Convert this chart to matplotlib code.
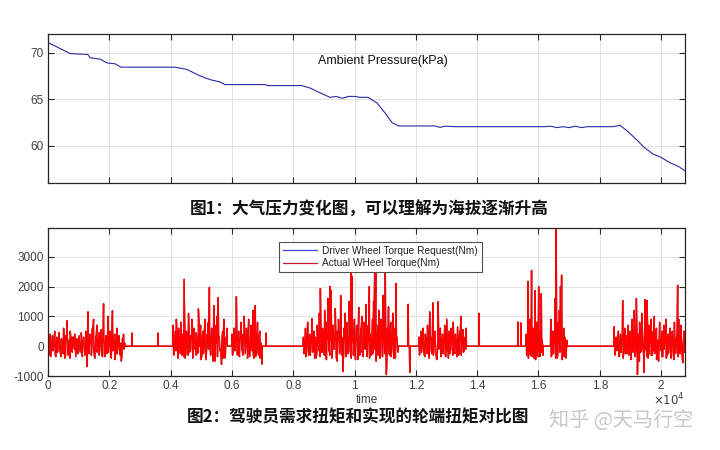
import numpy as np
import matplotlib
matplotlib.use("Agg")
import matplotlib.pyplot as plt
from matplotlib.lines import Line2D

plt.rcParams['font.family'] = ['Liberation Sans', 'DejaVu Sans']
plt.rcParams['axes.unicode_minus'] = False

# ---------------- data ----------------
# Figure 1: ambient pressure (kPa) vs time (s)
p_time = [0, 300, 720, 1300, 1370, 1700, 1920, 2190, 2380, 4140, 4530, 4960, 5290,
          5610, 5770, 7100, 7150, 8280, 8550, 8880, 9200, 9400, 9600, 9800, 10000,
          10180, 10440, 10730, 11000, 11220, 11430, 12600, 12790, 12950, 13300, 16200,
          16400, 16600, 16800, 17000, 17200, 17400, 17600, 18430, 18660, 18890, 19220,
          19420, 19740, 19970, 20300, 20560, 20780]
p_kpa = [71.08, 70.6, 69.9, 69.8, 69.45, 69.3, 68.9, 68.8, 68.44, 68.44, 68.2, 67.5, 67.1,
         66.85, 66.57, 66.57, 66.46, 66.46, 66.2, 65.67, 65.2, 65.3, 65.1, 65.3, 65.3,
         65.2, 65.2, 64.6, 63.5, 62.5, 62.13, 62.13, 61.98, 62.1, 62.05, 62.05,
         62.1, 61.95, 62.05, 61.95, 62.1, 61.95, 62.05, 62.05, 62.2, 61.6, 60.6,
         59.9, 59.1, 58.8, 58.16, 57.8, 57.3]

# Figure 2: wheel torque (Nm); driving bursts (start/end time in s)
burst_start = [0, 4080, 6000, 8330, 12100, 15600, 16400, 18470]
burst_end = [2500, 5840, 6980, 11420, 13640, 16150, 16930, 20780]
# main torque samples of each burst (peaks and swings)
burst1 = [1050, -300, 400, -150, 350, 50, 500, -350, 300, 100, 450, -200, 250, 0, 600, -400,
          350, 850, -300, 200, 500, -100, 300, 150, 400, -350, 250, 50, 350, -200, 450, 100,
          300, -300, 500, -680, 1150, -250, 400, 100, 600, 900, -400, 300, 700, -100, 450,
          200, 550, -350, 1420, 100, 350, -250, 1000, 200, 500, -400, 1190, 50, 400, -200,
          600, 150, 350, -300, -500, 250, 400, 100]
burst2 = [700, -200, 500, 900, -100, 600, 200, 800, -300, 400, 2240, -400, 500, 100, 1100,
          -200, 350, 900, -100, 600, 200, 450, -250, 1250, 0, 700, -350, 500, 150, 900, -450,
          400, 800, 1970, -300, 600, 200, 1360, -500, 700, 1000, 1630, 300, -100, -610, 500,
          900, -400, 300, 600]
burst3 = [400, -200, 600, 100, 1660, -300, 500, 200, 800, -100, 400, 1000, -250, 600, 50,
          900, -350, 700, 300, 1200, -400, 1360, 200, 800, -300, 500, 100, -600]
burst4 = [300, -200, 600, 100, 800, -300, 400, 200, 920, -150, 500, 300, -400, 700, 100,
          1100, 1930, -200, 600, 300, 1200, -350, 800, 1600, 100, 2000, 1870, -300, 700, 200,
          1260, -400, 500, 900, -250, 1700, 300, -850, 600, 1100, -300, 800, 200, 1500, -200,
          2610, 2340, 100, 900, -450, 700, 300, 1300, -300, 600, 1000, -200, 800, 200, 1400,
          -350, 700, 2000, 400, -300, 900, 1500, 2540, 2510, -200, 700, 1200, -400, 900, 300,
          1700, 100, 2470, -950, 600, 1320, -300, 800, 200, 1100, -400, 600, 2100, 300, -200]
burst5 = [300, -200, 500, 100, 600, -300, 400, 200, 700, -100, 1150, 300, -250, 1450, 200,
          500, -300, -400, 1490, 100, 600, -200, 400, 250, 700, -350, 900, 100, 500, -250,
          600, 300, 800, -200, 400, 150, 650, -300, 500, 1000, 100, 550, -150, 300, 600]
burst6 = [400, -200, 2170, 300, 900, -300, 2540, 200, 600, -400, 1860, 100, 800, -350, 2000,
          500, -200, 1760, 200, -300]
burst7 = [900, -300, 500, 200, 1600, 3970, -400, 800, 1200, 2000, 2380, -300, 600, 300, -400,
          200]
burst8 = [650, -200, 300, 100, 500, -300, 400, 200, 1530, -100, 600, 300, -250, 700, 100, 500,
          -400, 900, 200, 1200, -300, 1600, -950, 400, 800, -200, 1100, 300, -880, 1560, 200,
          1530, -400, 700, 100, 900, -300, 500, 1000, -200, 600, 200, -500, 800, 100, 500,
          -350, 700, 250, 900, -300, 400, 100, 600, -400, 500, 200, 800, -250, 300, 2040, 900,
          200, 700, -100, -550, 500, 300]
# in-between samples of the dense noise band of each burst
band1 = [-250, 150, -350, 100, -150, 250, -300, 50, -200, 300, -100, -350, 200, -250, 100,
         -300, 250, -150, 50, -400, 200, -200, 300, -100, -300, 150, -250, 350, -150, 100,
         -350, 200, -200, 50, -450, 300, -150, 150, -300, 250, -100, -400, 200, -200, 100,
         -300, 350, -150, -250, 150, -350, 250, -100, -200, 300, -300, 100, -150, 200, -450,
         50, -250, 300, -150, 100, -350, 200, -100]
band2 = [-300, 200, -150, 400, -400, 100, -250, 300, -100, -350, 200, -200, 450, -300, 100,
         -150, 300, -400, 250, -100, -300, 150, -200, 350, -450, 100, -250, 300, -150, -350,
         200, -100, 400, -300, 150, -500, 250, -200, 100, -350, 300, -150, -250, 200, -400,
         150, -300, 100]
band3 = [-300, 200, -150, 400, -250, 100, -350, 250, -100, -300, 150, -200, 300, -400, 100,
         -250, 350, -150, -300, 200, -350, 100, -200, 250, -400, 0]
band4 = [-250, 150, -350, 200, -100, 300, -300, 100, -200, 400, -400, 150, -250, 300, -150,
         -350, 200, -200, 350, -300, 100, -450, 250, -150, -300, 200, -400, 150, -100, 300,
         -250, -500, 200, -150, 400, -300, 100, -200, 250, -350, 150, -250, 350, -100, -400,
         200, -300, 100, -150, 300, -450, 150, -250, 400, -200, -350, 200, -100, 300, -300,
         150, -400, 250, -150, -250, 350, -100, -500, 200, -300, 100, -200, 400, -350, 150,
         -250, 300, -600, 100, -200, 350, -350, 150, -100, 250, -400, 200, -150]
band5 = [-300, 150, -200, 350, -100, -350, 200, -250, 100, -400, 250, -150, 300, -300, 100,
         -200, -450, 200, -100, 300, -350, 150, -250, 100, -300, 250, -150, -400, 200, -100,
         300, -300, 150, -250, 100, -350, 200, -150, 250, -300, 100, -200, 150, -100]
band6 = [-300, 200, -400, 100, -250, 300, -350, 150, -200, 250, -450, 100, -300, 200, -150,
         -350, 250, -200, 0]
band7 = [-350, 200, -250, 100, -400, 300, -300, 150, -200, 250, -450, 100, -350, 200, -100]
band8 = [-300, 200, -150, 300, -350, 100, -200, 250, -400, 150, -250, 350, -100, -300, 200,
         -450, 100, -200, 300, -350, 150, -250, 250, -500, 100, -150, 300, -400, 200, -100,
         -350, 250, -200, 150, -300, 350, -150, -250, 200, -450, 100, -300, 250, -150, -350,
         200, -100, 300, -400, 150, -250, 350, -200, -300, 100, -450, 250, -150, 200, -350,
         100, -250, 300, -400, 150, -200]
bursts = [burst1, burst2, burst3, burst4, burst5, burst6, burst7, burst8]
bands = [band1, band2, band3, band4, band5, band6, band7, band8]
# isolated single spikes between bursts
spike_time = [2740, 3590, 7110, 11750, 11800, 14060, 15330, 15430]
spike_value = [440, 440, 440, 1400, -880, 1100, 810, 780]

x_ticks = [0, 2000, 4000, 6000, 8000, 10000, 12000, 14000, 16000, 18000, 20000]
x_ticklabels = ['0', '0.2', '0.4', '0.6', '0.8', '1', '1.2', '1.4', '1.6', '1.8', '2']
p_yticks = [60, 65, 70]
t_yticks = [-1000, 0, 1000, 2000, 3000]
legend_labels = ['Driver Wheel Torque Request(Nm)', 'Actual WHeel Torque(Nm)']

# ------------- build torque series -------------
XMAX = 20780
pts_t, pts_v = [], []
for s, e, vals, band in zip(burst_start, burst_end, bursts, bands):
    tt = np.linspace(s, e, len(vals))
    if s > 0:
        pts_t.append(s - 10); pts_v.append(0)
    pts_t.extend(tt); pts_v.extend(vals)
    edges = np.linspace(s, e, len(band) + 1)
    pts_t.extend((edges[:-1] + edges[1:]) / 2); pts_v.extend(band)
    if e < XMAX:
        pts_t.append(e + 10); pts_v.append(0)
for st, sv in zip(spike_time, spike_value):
    pts_t.extend([st - 12, st, st + 12]); pts_v.extend([0, sv, 0])
order = np.argsort(pts_t, kind='stable')
torque_t = np.asarray(pts_t)[order]
torque_actual = np.asarray(pts_v, dtype=float)[order]
torque_request = torque_actual.copy()   # request overlaps the actual torque

# ---------------- figure ----------------
fig = plt.figure(figsize=(7.2, 4.5), dpi=100)
fig.patch.set_facecolor('white')
tick_col = '#404040'
spine_col = '#262626'


def style(ax):
    ax.set_xlim(0, XMAX)
    ax.set_xticks(x_ticks)
    ax.grid(True, color='#dedede', linewidth=0.6)
    ax.set_axisbelow(True)
    ax.tick_params(direction='in', length=4, width=0.8, top=True, right=True,
                   colors=spine_col, labelcolor=tick_col, labelsize=8.5, pad=3)
    for sp in ax.spines.values():
        sp.set_color(spine_col)
        sp.set_linewidth(0.9)


ax1 = fig.add_axes([0.0667, 0.5933, 0.8847, 0.3311])
ax1.plot(p_time, p_kpa, color='#2a2aa8', linewidth=0.8)
style(ax1)
ax1.set_ylim(56, 72)
ax1.set_yticks(p_yticks)
ax1.set_xticklabels([])
ax1.text(0.526, 0.82, 'Ambient Pressure(kPa)', transform=ax1.transAxes,
         ha='center', va='center', fontsize=9, color='#111111')

ax2 = fig.add_axes([0.0667, 0.1644, 0.8847, 0.3289])
ax2.plot(torque_t, torque_request, color='#8a1c3c', linewidth=1.0)
ax2.plot(torque_t, torque_actual, color='#ff0000', linewidth=0.95)
style(ax2)
ax2.set_ylim(-1000, 3960)
ax2.set_yticks(t_yticks)
ax2.set_xticklabels(x_ticklabels)
ax2.text(0.5, -0.12, 'time', transform=ax2.transAxes, ha='center', va='top',
         fontsize=8.5, color=tick_col)
ax2.text(1.0, -0.165, r'$\times10^{4}$', transform=ax2.transAxes, ha='right', va='center',
         fontsize=8.5, color=tick_col)

handles = [Line2D([], [], color='#4646d0', linewidth=0.9),
           Line2D([], [], color='#c02030', linewidth=0.9)]
leg = ax2.legend(handles, legend_labels, loc='upper left', bbox_to_anchor=(0.363, 0.905),
                 fontsize=7.3, frameon=True, fancybox=False, framealpha=1,
                 edgecolor='#505050', handlelength=3.4, handletextpad=0.5,
                 borderpad=0.35, labelspacing=0.25, borderaxespad=0)
leg.get_frame().set_linewidth(0.8)
for t in leg.get_texts():
    t.set_color('#222222')

cjk = ['Noto Sans CJK SC', 'DejaVu Sans']
fig.text(0.5125, 1 - 210 / 450, '图1：大气压力变化图，可以理解为海拔逐渐升高', family=cjk,
         fontsize=12, fontweight='bold', ha='center', va='center', color='#111111')
fig.text(0.497, 1 - 417 / 450, '图2：驾驶员需求扭矩和实现的轮端扭矩对比图', family=cjk,
         fontsize=12, fontweight='bold', ha='center', va='center', color='#111111')
fig.text(0.862, 1 - 420 / 450, '知乎 @天马行空', family=cjk, fontsize=14.5,
         ha='center', va='center', color='#c8c8c8')

fig.savefig('out.png', dpi=100, facecolor='white')
